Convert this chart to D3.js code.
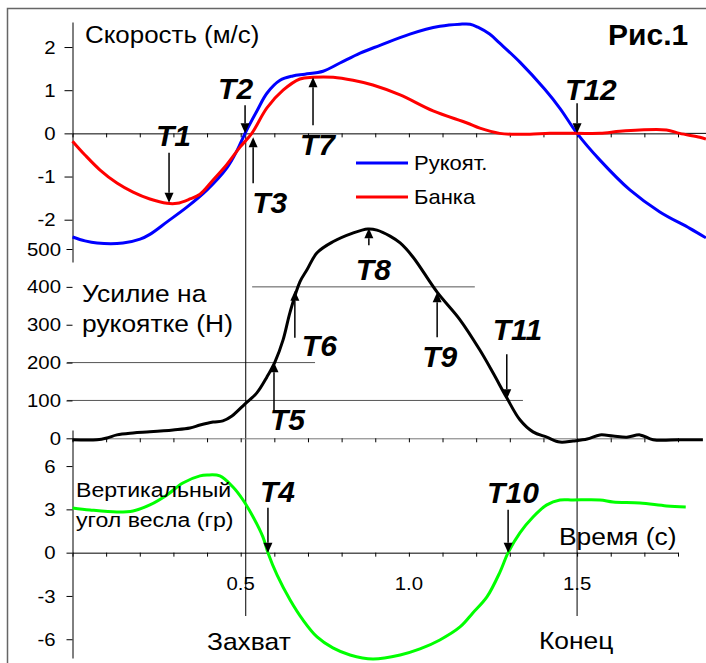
<!DOCTYPE html>
<html><head><meta charset="utf-8">
<script src="https://cdn.jsdelivr.net/npm/d3@7"></script>
<style>
html,body{margin:0;padding:0;background:#fff;}
svg{display:block;}
</style></head><body>
<svg id="c" width="706" height="663"></svg>
<script>
// ---------- DATA ----------
// Handle velocity (m/s)
const handleT = [0,0.037,0.073,0.150,0.201,0.230,0.281,0.340,0.400,0.459,0.489,0.513,0.549,0.578,0.617,0.655,0.691,0.745,0.795,0.855,0.914,1.003,1.092,1.152,1.182,1.205,1.240,1.270,1.330,1.404,1.449,1.500,1.568,1.657,1.746,1.835,1.883];
const handleV = [-2.40,-2.49,-2.54,-2.54,-2.45,-2.34,-2.05,-1.71,-1.31,-0.80,-0.40,0,0.53,0.93,1.23,1.33,1.37,1.44,1.63,1.86,2.04,2.30,2.48,2.53,2.53,2.46,2.30,2.09,1.65,1.02,0.58,0,-0.62,-1.31,-1.82,-2.20,-2.42];
// Blade (spoon) velocity (m/s)
const bladeT = [0,0.037,0.082,0.132,0.180,0.230,0.281,0.311,0.349,0.379,0.418,0.459,0.498,0.533,0.578,0.626,0.676,0.715,0.775,0.834,0.893,0.974,1.072,1.173,1.211,1.270,1.315,1.360,1.419,1.500,1.568,1.627,1.686,1.766,1.805,1.865,1.883];
const bladeV = [-0.18,-0.50,-0.85,-1.15,-1.36,-1.52,-1.62,-1.62,-1.52,-1.41,-1.08,-0.72,-0.32,0,0.59,1.00,1.26,1.30,1.30,1.23,1.12,0.89,0.52,0.24,0.12,0,-0.02,-0.02,0,0,0,0.05,0.08,0.08,0,-0.09,-0.13];
// Handle force (N)
const forceT = [0,0.073,0.103,0.132,0.180,0.230,0.299,0.349,0.379,0.418,0.447,0.474,0.513,0.548,0.578,0.602,0.626,0.647,0.676,0.697,0.727,0.774,0.833,0.878,0.905,0.944,0.974,1.012,1.084,1.152,1.211,1.250,1.291,1.330,1.369,1.410,1.449,1.488,1.530,1.568,1.607,1.648,1.687,1.726,1.806,1.874];
const forceN = [-4,-4,1,9,14,17,22,27,35,43,46,59,91,120,162,202,260,334,413,445,490,519,542,553,550,534,516,479,386,313,233,173,107,49,17,3,-10,-7,-2,9,6,3,9,-4,-4,-4];
// Vertical oar angle (deg)
const angleT = [0,0.052,0.132,0.180,0.230,0.281,0.328,0.379,0.400,0.438,0.477,0.507,0.537,0.566,0.581,0.608,0.647,0.685,0.727,0.774,0.825,0.893,0.974,1.033,1.092,1.152,1.190,1.232,1.271,1.295,1.330,1.369,1.410,1.449,1.488,1.568,1.607,1.687,1.766,1.823];
const angleDeg = [3.10,2.96,2.82,2.89,3.31,4.00,4.83,5.32,5.38,5.32,4.55,3.65,2.47,1.09,0,-1.54,-3.28,-4.66,-5.84,-6.60,-7.09,-7.37,-7.09,-6.67,-6.05,-5.15,-4.18,-3.07,-1.33,0,1.37,2.47,3.31,3.65,3.65,3.65,3.51,3.44,3.24,3.17];

const velTicks = [-2,-1,0,1,2];
const forceTicks = [0,100,200,300,400,500];
const angleTicks = [-6,-3,0,3,6];
const timeTicks = [0,0.1,0.2,0.3,0.4,0.5,0.6,0.7,0.8,0.9,1.0,1.1,1.2,1.3,1.4,1.5,1.6,1.7,1.8];
const timeLabelVals = [0.5,1.0,1.5];
const timeLabels = ["0.5","1.0","1.5"];
const catchT = 0.515, finishT = 1.5;
const refForce = [400,200,100];
const refStart = [0.534,-0.016,-0.016];
const refEnd = [1.196,0.721,1.339];
const legendLabels = ["Рукоят.","Банка"];

// events: id, panel, time, value, arrow direction
const eventIds = ["T1","T2","T3","T7","T12","T8","T6","T5","T9","T11","T4","T10"];
const eventPanel = ["v","v","v","v","v","f","f","f","f","f","a","a"];
const eventT = [0.287,0.513,0.537,0.715,1.500,0.881,0.661,0.599,1.084,1.291,0.581,1.295];
const eventVal = [-1.61,0,-0.09,1.30,0,555,390,201,386,103,0,0];
const eventDir = ["down","down","up","up","down","up","up","up","up","down","down","down"];

// ---------- LAYOUT ----------
const FONT = "'Liberation Sans', Arial, sans-serif";
const colHandle = "#0000ff", colBlade = "#ff0000", colForce = "#000000", colAngle = "#00ff00";
const arrowLen = {T1:50,T2:28,T3:46,T7:48,T12:30,T8:17,T6:47,T5:48,T9:45,T11:45,T4:45,T10:43};
const labelOff = {T1:[-13,-57],T2:[-27,-34],T3:[-1,76],T7:[-13,78],T12:[-12,-33],T8:[-13,52],
  T6:[7,65],T5:[-4,68],T9:[-15,75],T11:[-14,-59],T4:[-8,-51],T10:[-21,-50]};

const svg = d3.select("#c");
const x = d3.scaleLinear().domain([0,1.8]).range([72.5,678]);
const yV = d3.scaleLinear().domain([-2.98,2.58]).range([262,22]);
const yF = d3.scaleLinear().domain([0,500]).range([438.3,249]);
const yA = d3.scaleLinear().domain([-7.3,8.5]).range([658,430]);
const yOf = {v:yV, f:yF, a:yA};

function txt(px, py, s, o) {
  o = o || {};
  return svg.append("text")
    .attr("transform", `translate(${px},${py}) scale(${o.sx||1},1)`)
    .attr("font-family", FONT)
    .attr("font-size", o.size||20)
    .attr("font-weight", o.weight||"normal")
    .attr("font-style", o.style||"normal")
    .attr("text-anchor", o.anchor||"start")
    .attr("fill", o.fill||"#000")
    .text(s);
}

// frame
svg.append("path").attr("d","M7.5,663 V8.5 H706").attr("fill","none").attr("stroke","#666").attr("stroke-width",1.5);

// reference horizontal lines (force)
refForce.forEach((f,i) => {
  svg.append("line").attr("x1",x(refStart[i])).attr("x2",x(refEnd[i]))
    .attr("y1",yF(f)).attr("y2",yF(f)).attr("stroke","#555").attr("stroke-width",1);
});

// vertical event lines (catch / finish)
[catchT, finishT].forEach(t => {
  svg.append("line").attr("x1",x(t)).attr("x2",x(t)).attr("y1",yV(0)).attr("y2",616)
    .attr("stroke","#000").attr("stroke-width",1);
});

// axes
function styleAxis(g){ g.selectAll("path,line").attr("stroke","#000").attr("stroke-width",1); g.selectAll("text").remove(); }
svg.append("g").attr("transform","translate(72.5,0)")
  .call(d3.axisLeft(yV).tickValues(velTicks).tickSize(8).tickSizeOuter(0).tickFormat("")).call(styleAxis);
const gF = svg.append("g").attr("transform","translate(72.5,0)")
  .call(d3.axisLeft(yF).tickValues(forceTicks).tickSize(6).tickSizeOuter(0).tickFormat("")).call(styleAxis);
gF.select(".domain").remove();
svg.append("g").attr("transform","translate(72.5,0)")
  .call(d3.axisLeft(yA).tickValues(angleTicks).tickSize(6).tickSizeOuter(0).tickFormat("")).call(styleAxis);

svg.append("g").attr("transform",`translate(0,${yV(0)})`)
  .call(d3.axisBottom(x).tickValues(timeTicks).tickSize(4).tickSizeOuter(0).tickFormat("")).call(styleAxis);
svg.append("line").attr("x1",x(1.8)).attr("x2",706).attr("y1",yV(0)).attr("y2",yV(0)).attr("stroke","#000");
const gxF = svg.append("g").attr("transform",`translate(0,${yF(0)})`)
  .call(d3.axisBottom(x).tickValues(timeTicks).tickSize(4).tickSizeOuter(0).tickFormat("")).call(styleAxis);
gxF.select(".domain").attr("stroke","#777");
svg.append("g").attr("transform",`translate(0,${yA(0)})`)
  .call(d3.axisBottom(x).tickValues(timeTicks).tickSize(4).tickSizeOuter(0).tickFormat("")).call(styleAxis);

// tick labels
velTicks.forEach(v => txt(55.5, yV(v)+6.6, String(v), {size:18.5, anchor:"end", sx:1.1}));
forceTicks.forEach(v => txt(61, yF(v)+6.6, String(v), {size:18.5, anchor:"end", sx:1.1}));
angleTicks.forEach(v => txt(55.5, yA(v)+6.6, String(v), {size:18.5, anchor:"end", sx:1.1}));
timeLabelVals.forEach((v,i) => txt(x(v), 590, timeLabels[i], {size:18.5, anchor:"middle", sx:1.1}));

// curves
const lineGen = (ys) => d3.line().x(d=>x(d[0])).y(d=>ys(d[1])).curve(d3.curveCatmullRom.alpha(0.5));
const zip = (a,b) => a.map((v,i)=>[v,b[i]]);
svg.append("path").attr("d", lineGen(yA)(zip(angleT,angleDeg))).attr("fill","none").attr("stroke",colAngle).attr("stroke-width",3);
svg.append("path").attr("d", lineGen(yF)(zip(forceT,forceN))).attr("fill","none").attr("stroke",colForce).attr("stroke-width",3);
svg.append("path").attr("d", lineGen(yV)(zip(handleT,handleV))).attr("fill","none").attr("stroke",colHandle).attr("stroke-width",3);
svg.append("path").attr("d", lineGen(yV)(zip(bladeT,bladeV))).attr("fill","none").attr("stroke",colBlade).attr("stroke-width",3);

// event arrows and labels
eventIds.forEach((id,i) => {
  const ys = yOf[eventPanel[i]];
  const hx = x(eventT[i]), hy = ys(eventVal[i]);
  const s = eventDir[i]==="down" ? -1 : 1;
  const ty = hy + s*arrowLen[id];
  const ah = 10, aw = 4.5;
  svg.append("line").attr("x1",hx).attr("x2",hx).attr("y1",ty).attr("y2",hy + s*ah)
    .attr("stroke","#000").attr("stroke-width",1.5);
  svg.append("path").attr("d",`M${hx-aw},${hy+s*ah} L${hx+aw},${hy+s*ah} L${hx},${hy} Z`).attr("fill","#000");
  const o = labelOff[id];
  txt(hx+o[0], hy+o[1], id, {size:30, weight:"bold", style:"italic"});
});

// texts
txt(85, 43, "Скорость (м/с)", {size:24, sx:1.08});
txt(608, 45, "Рис.1", {size:30, weight:"bold"});
txt(82, 302, "Усилие на", {size:24, sx:1.1});
txt(82, 332, "рукоятке (Н)", {size:24, sx:1.1});
txt(76, 497, "Вертикальный", {size:21, sx:1.1});
txt(76, 527, "угол весла (гр)", {size:21, sx:1.1});
txt(559, 545, "Время (с)", {size:24, sx:1.1});
txt(207, 650, "Захват", {size:24, sx:1.1});
txt(539, 649, "Конец", {size:24, sx:1.1});

// legend
[colHandle, colBlade].forEach((c,i) => {
  const ly = 163 + i*34;
  svg.append("line").attr("x1",356).attr("x2",408).attr("y1",ly).attr("y2",ly).attr("stroke",c).attr("stroke-width",3);
  txt(414, ly+7, legendLabels[i], {size:20, sx:1.1});
});
</script>
</body></html>
